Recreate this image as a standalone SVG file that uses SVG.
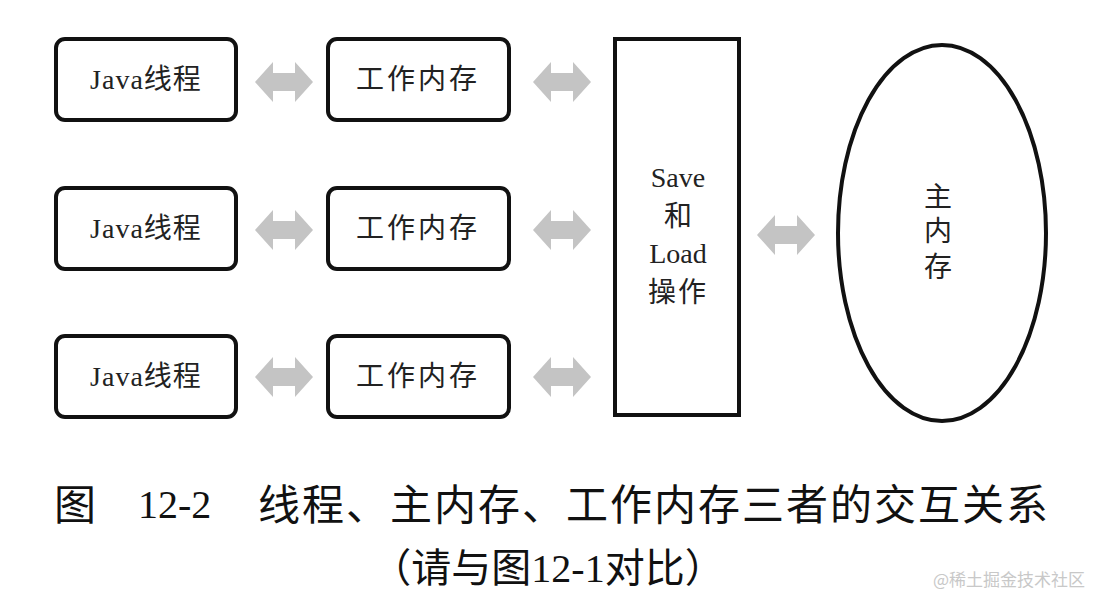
<svg xmlns="http://www.w3.org/2000/svg" xmlns:xlink="http://www.w3.org/1999/xlink" width="1102" height="608" viewBox="0 0 1102 608">
<style>
.box{fill:#fff;stroke:#111;stroke-width:4}
.lbl{font-family:"Liberation Serif","Noto Sans CJK SC",serif;font-size:28px;fill:#222;text-anchor:middle;dominant-baseline:central}
.arr{fill:#c4c4c4}
.cap{font-family:"Liberation Serif","Noto Sans CJK SC",serif;fill:#111}
</style>
<defs>
<path id="dbl" class="arr" d="M-29,0 L-11,-20 L-11,-9 L11,-9 L11,-20 L29,0 L11,20 L11,9 L-11,9 L-11,20 Z"/>
</defs>
<rect width="1102" height="608" fill="#fff"/>
<g id="connectors">
<use xlink:href="#dbl" x="284" y="82"/>
<use xlink:href="#dbl" x="562" y="82"/>
<use xlink:href="#dbl" x="284" y="230"/>
<use xlink:href="#dbl" x="562" y="230"/>
<use xlink:href="#dbl" x="284" y="377"/>
<use xlink:href="#dbl" x="562" y="377"/>
<use xlink:href="#dbl" x="786" y="235"/>
</g>
<g id="thread1"><rect class="box" x="56" y="39" width="180" height="81" rx="9"/><text class="lbl" x="146" y="79" letter-spacing="1">Java线程</text></g>
<g id="work1"><rect class="box" x="328" y="39" width="181" height="81" rx="9"/><text class="lbl" x="418" y="79" letter-spacing="3">工作内存</text></g>
<g id="thread2"><rect class="box" x="56" y="188" width="180" height="81" rx="9"/><text class="lbl" x="146" y="228" letter-spacing="1">Java线程</text></g>
<g id="work2"><rect class="box" x="328" y="188" width="181" height="81" rx="9"/><text class="lbl" x="418" y="228" letter-spacing="3">工作内存</text></g>
<g id="thread3"><rect class="box" x="56" y="336" width="180" height="81" rx="9"/><text class="lbl" x="146" y="376" letter-spacing="1">Java线程</text></g>
<g id="work3"><rect class="box" x="328" y="336" width="181" height="81" rx="9"/><text class="lbl" x="418" y="376" letter-spacing="3">工作内存</text></g>
<g id="saveload"><rect class="box" x="615" y="39" width="124" height="376"/>
<text class="lbl" x="678" y="177" font-size="26">Save</text>
<text class="lbl" x="678" y="216" font-size="26">和</text>
<text class="lbl" x="678" y="253" font-size="26">Load</text>
<text class="lbl" x="678" y="292" font-size="26" letter-spacing="2">操作</text></g>
<g id="mainmem"><ellipse class="box" cx="942" cy="233" rx="104" ry="188"/>
<text class="lbl" x="938" y="197" font-size="26">主</text>
<text class="lbl" x="938" y="231" font-size="26">内</text>
<text class="lbl" x="938" y="267" font-size="26">存</text></g>
<g id="caption">
<text class="cap" x="54" y="520" font-size="42">图</text>
<text class="cap" x="138" y="518" font-size="40">12-2</text>
<text class="cap" x="258" y="520" font-size="42" textLength="790" lengthAdjust="spacing">线程、主内存、工作内存三者的交互关系</text>
<text class="cap" x="548" y="582" font-size="40" text-anchor="middle">（请与图12-1对比）</text>
</g>
<text x="1085" y="586" font-family="'Noto Sans CJK SC',sans-serif" font-size="17" fill="#c8c8c8" text-anchor="end">@稀土掘金技术社区</text>
</svg>
